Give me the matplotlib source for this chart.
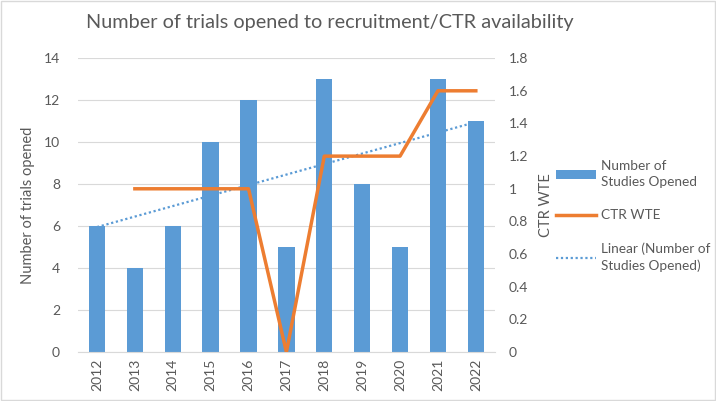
import numpy as np
import matplotlib
matplotlib.use("Agg")
import matplotlib.pyplot as plt
from matplotlib.patches import Rectangle

years = ["2012", "2013", "2014", "2015", "2016", "2017", "2018", "2019", "2020", "2021", "2022"]
studies_opened = [6, 4, 6, 10, 12, 5, 13, 8, 5, 13, 11]
ctr_wte = [np.nan, 1, 1, 1, 1, 0, 1.2, 1.2, 1.2, 1.6, 1.6]

plt.rcParams['font.family'] = ['Lato', 'DejaVu Sans']
gray = "#595959"
blue = "#5B9BD5"
orange = "#ED7D31"

fig = plt.figure(figsize=(7.16, 4.01), dpi=100)
fig.patches.append(Rectangle((0.002, 0.003), 0.996, 0.994, transform=fig.transFigure,
                             fill=False, edgecolor="#D9D9D9", linewidth=1))
ax = fig.add_axes([0.109, 0.122, 0.582, 0.733])
x = np.arange(len(years))
bars = ax.bar(x, studies_opened, width=0.43, color=blue, zorder=2, label="Number of\nStudies Opened")
coef = np.polyfit(x, studies_opened, 1)
trend, = ax.plot(x, np.polyval(coef, x), linestyle=(0, (1, 1.2)), color=blue, linewidth=1.6,
                 zorder=3, label="Linear (Number of\nStudies Opened)")
ax.set_xlim(-0.5, len(years) - 0.5)
ax.set_ylim(0, 14)
ax.set_yticks(range(0, 15, 2))
ax.set_xticks(x)
ax.set_xticklabels(years, rotation=90)
ax.grid(axis="y", color="#D9D9D9", linewidth=0.8, zorder=0)
for s in ["top", "right", "left"]:
    ax.spines[s].set_visible(False)
ax.spines["bottom"].set_color("#D9D9D9")
ax.tick_params(axis="both", length=0, colors=gray, labelsize=10)
ax.tick_params(axis="y", pad=13)
ax.tick_params(axis="x", pad=5)
ax.set_ylabel("Number of trials opened", color=gray, fontsize=10.5, labelpad=6)

ax2 = ax.twinx()
line, = ax2.plot(x, ctr_wte, color=orange, linewidth=2.5, zorder=4, label="CTR WTE")
ax2.set_ylim(0, 1.8)
ax2.set_yticks(np.round(np.arange(0, 1.81, 0.2), 1))
ax2.set_yticklabels(["0", "0.2", "0.4", "0.6", "0.8", "1", "1.2", "1.4", "1.6", "1.8"])
for s in ["top", "right", "left", "bottom"]:
    ax2.spines[s].set_visible(False)
ax2.tick_params(axis="y", length=0, colors=gray, labelsize=10, pad=10)
ax2.set_ylabel("CTR WTE", color=gray, fontsize=10.5, labelpad=8)

leg = fig.legend([bars, line, trend], ["Number of\nStudies Opened", "CTR WTE", "Linear (Number of\nStudies Opened)"],
                 loc="upper left", bbox_to_anchor=(0.760, 0.632), frameon=False, fontsize=9.8,
                 labelcolor=gray, handlelength=2.9, labelspacing=1.55, handletextpad=0.4)
for t in leg.get_texts():
    t.set_linespacing(1.45)

fig.text(0.461, 0.945, "Number of trials opened to recruitment/CTR availability",
         ha="center", va="center", fontsize=14.3, color=gray)

fig.savefig("out.png", dpi=100)
